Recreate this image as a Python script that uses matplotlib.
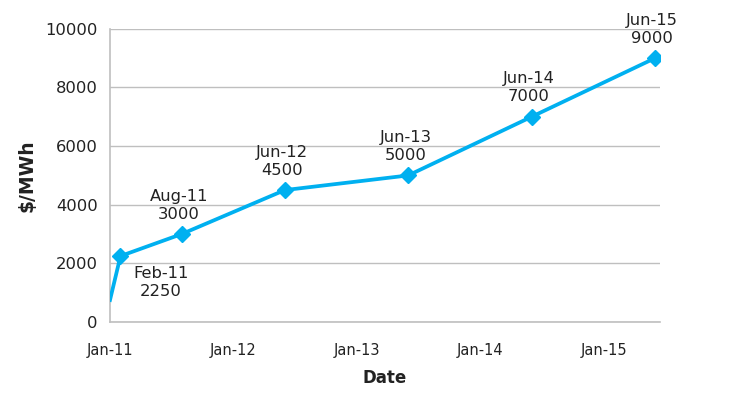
import matplotlib
matplotlib.use("Agg")
import matplotlib.pyplot as plt
import matplotlib.dates as mdates
from datetime import date

plt.rcParams['font.family'] = ['DejaVu Sans']

dates = [date(2011, 1, 1), date(2011, 2, 1), date(2011, 8, 1), date(2012, 6, 1),
         date(2013, 6, 1), date(2014, 6, 1), date(2015, 6, 1)]
values = [750, 2250, 3000, 4500, 5000, 7000, 9000]
labels = [None, "Feb-11\n2250", "Aug-11\n3000", "Jun-12\n4500", "Jun-13\n5000",
          "Jun-14\n7000", "Jun-15\n9000"]
yticks = [0, 2000, 4000, 6000, 8000, 10000]
xticks = [date(2011, 1, 1), date(2012, 1, 1), date(2013, 1, 1), date(2014, 1, 1), date(2015, 1, 1)]

color = '#00B0F0'
text_color = '#222222'
fig = plt.figure(figsize=(7.55, 4.01), dpi=100)
ax = fig.add_axes([0.1457, 0.197, 0.728, 0.731])

ax.plot(dates, values, color=color, lw=2.7, zorder=3)
ax.plot(dates[1:], values[1:], ls='none', marker='D', ms=8.5, color=color, zorder=4)

for d, v, lab in zip(dates, values, labels):
    if lab is None:
        continue
    if lab.startswith("Feb"):
        ax.annotate(lab, (mdates.date2num(d), v), xytext=(29, -7), textcoords='offset points',
                    ha='center', va='top', fontsize=11.8, color=text_color, linespacing=1.25)
    else:
        ax.annotate(lab, (mdates.date2num(d), v), xytext=(-2, 9), textcoords='offset points',
                    ha='center', va='bottom', fontsize=11.8, color=text_color, linespacing=1.25)

ax.set_xlim(mdates.date2num(date(2011, 1, 1)), mdates.date2num(date(2015, 6, 15)))
ax.set_ylim(0, 10000)
ax.set_yticks(yticks)
ax.set_yticklabels([str(t) for t in yticks], fontsize=11.8, color=text_color)
ax.set_xticks([mdates.date2num(t) for t in xticks])
ax.set_xticklabels([t.strftime('%b-%y') for t in xticks], fontsize=10.5, color=text_color)
ax.tick_params(axis='both', length=0)
ax.tick_params(axis='x', pad=15)
ax.tick_params(axis='y', pad=9)

ax.grid(axis='y', color='#BFBFBF', lw=1.0)
ax.set_axisbelow(True)
for s in ['top', 'right']:
    ax.spines[s].set_visible(False)
for s in ['left', 'bottom']:
    ax.spines[s].set_color('#BFBFBF')
    ax.spines[s].set_linewidth(1.2)

ax.set_xlabel('Date', fontsize=12, fontweight='bold', color=text_color, labelpad=8)
ax.set_ylabel('$/MWh', fontsize=13.5, fontweight='bold', color=text_color, labelpad=6)

fig.savefig('out.png', dpi=100)
